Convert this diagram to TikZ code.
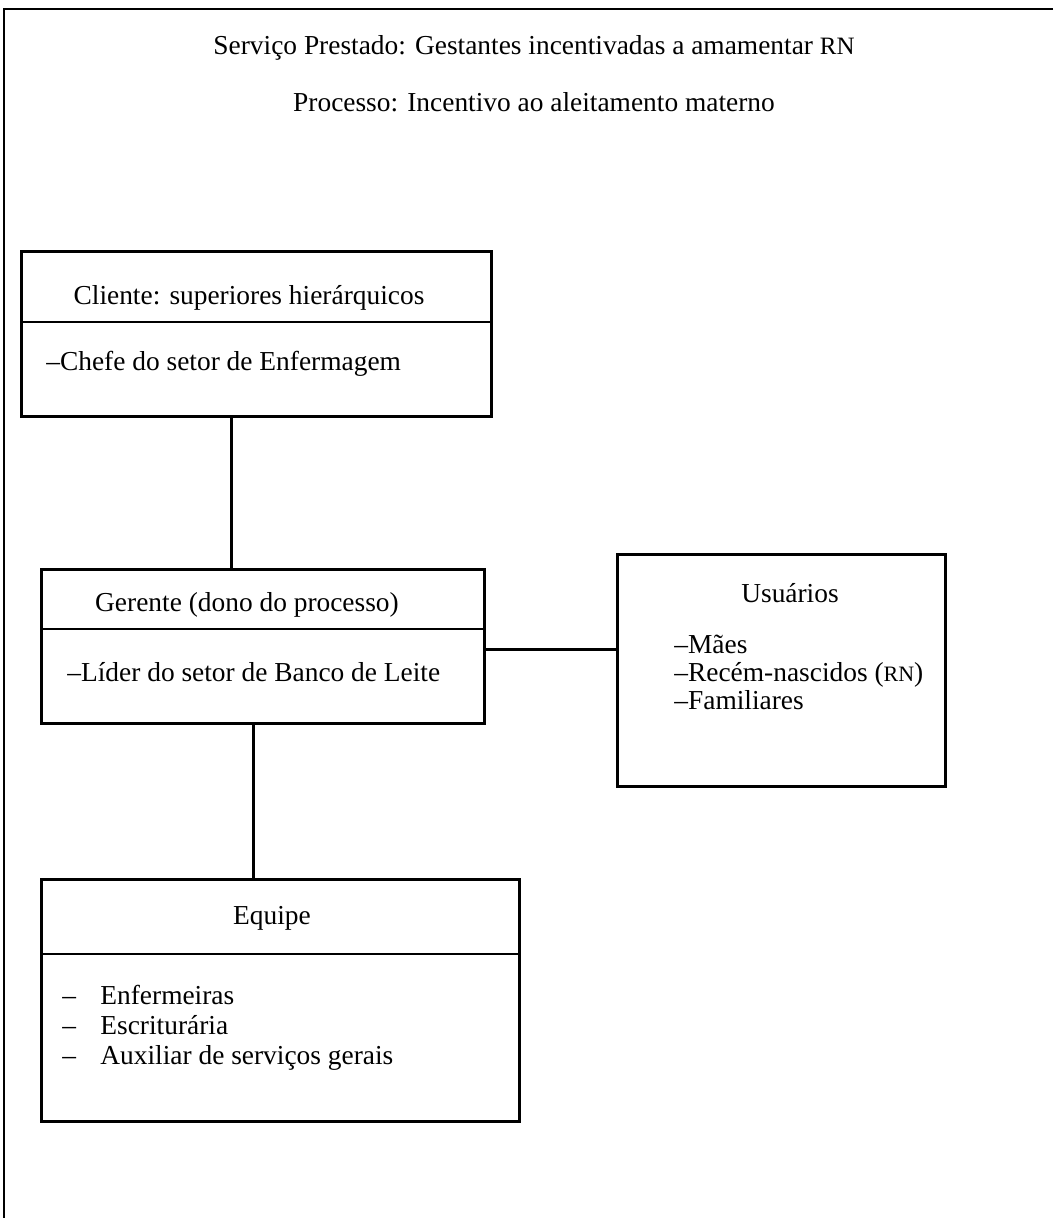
\documentclass[tikz,border=0pt]{standalone}
\usepackage{fontspec}
\setmainfont{Liberation Serif}
\newcommand{\smc}[1]{{\fontsize{11}{12}\selectfont #1}}
\newcommand{\mdc}[1]{{\fontsize{12.5}{13}\selectfont #1}}
\begin{document}
\begin{tikzpicture}[x=0.5pt,y=-0.5pt,
  box/.style={draw, line width=1.5pt, rectangle, inner sep=0pt, anchor=north west},
  rule/.style={line width=1.2pt},
  link/.style={line width=1.5pt},
  frame/.style={line width=1.3pt},
  txt/.style={font=\fontsize{13.7}{16}\selectfont, inner sep=0pt, anchor=base},
  item/.style={txt, anchor=base west}]
\useasboundingbox (0,0) rectangle (1053,1218);

% page frame (top and left edges only)
\coordinate (fTL) at (4,9);
\coordinate (fTR) at (1053,9);
\coordinate (fBL) at (4,1218);
\draw[frame] (fTR) -- (fTL) -- (fBL);

% headings
\node[txt] (t1) at (534,55) {Serviço Prestado: Gestantes incentivadas a amamentar \mdc{RN}};
\node[txt] (t2) at (534,112) {Processo: Incentivo ao aleitamento materno};

% client box
\node[box, minimum width=235pt, minimum height=82.5pt] (cli) at (20,250) {};
\draw[rule] ([yshift=-36pt]cli.north west) coordinate (cliA) -- (cliA -| cli.east);
\node[txt] (cliH) at (249,305) {Cliente: superiores hierárquicos};
\node[item] (cliB) at (46,371) {--Chefe do setor de Enfermagem};

% manager box
\node[box, minimum width=221.5pt, minimum height=77pt] (ger) at (40,568) {};
\draw[rule] ([yshift=-30.5pt]ger.north west) coordinate (gerA) -- (gerA -| ger.east);
\node[txt] (gerH) at (247,611) {Gerente (dono do processo)};
\node[item] (gerB) at (67,681) {--Líder do setor de Banco de Leite};

% users box
\node[box, minimum width=164pt, minimum height=116pt] (usu) at (616,553) {};
\node[txt] (usuH) at (790,602) {Usuários};
\node[item] (usu1) at (674,653) {--Mães};
\node[item] (usu2) at (674,681) {--Recém-nascidos (\smc{RN})};
\node[item] (usu3) at (674,709) {--Familiares};

% team box
\node[box, minimum width=239pt, minimum height=121pt] (equ) at (40,878) {};
\draw[rule] ([yshift=-38pt]equ.north west) coordinate (equA) -- (equA -| equ.east);
\node[txt] (equH) at (272,924) {Equipe};
\node[item] (equ1d) at (62,1004) {--};
\node[item] (equ1) at (100,1004) {Enfermeiras};
\node[item] (equ2d) at (62,1034) {--};
\node[item] (equ2) at (100,1034) {Escriturária};
\node[item] (equ3d) at (62,1064) {--};
\node[item] (equ3) at (100,1064) {Auxiliar de serviços gerais};

% connectors
\draw[link] ([xshift=-12.5pt]cli.south) -- ([xshift=-12.5pt]cli.south |- ger.north);
\draw[link] ([yshift=-1.5pt]ger.east) -- ([yshift=-1.5pt]ger.east -| usu.west);
\draw[link] ([xshift=-4.75pt]ger.south) -- ([xshift=-4.75pt]ger.south |- equ.north);
\end{tikzpicture}
\end{document}
